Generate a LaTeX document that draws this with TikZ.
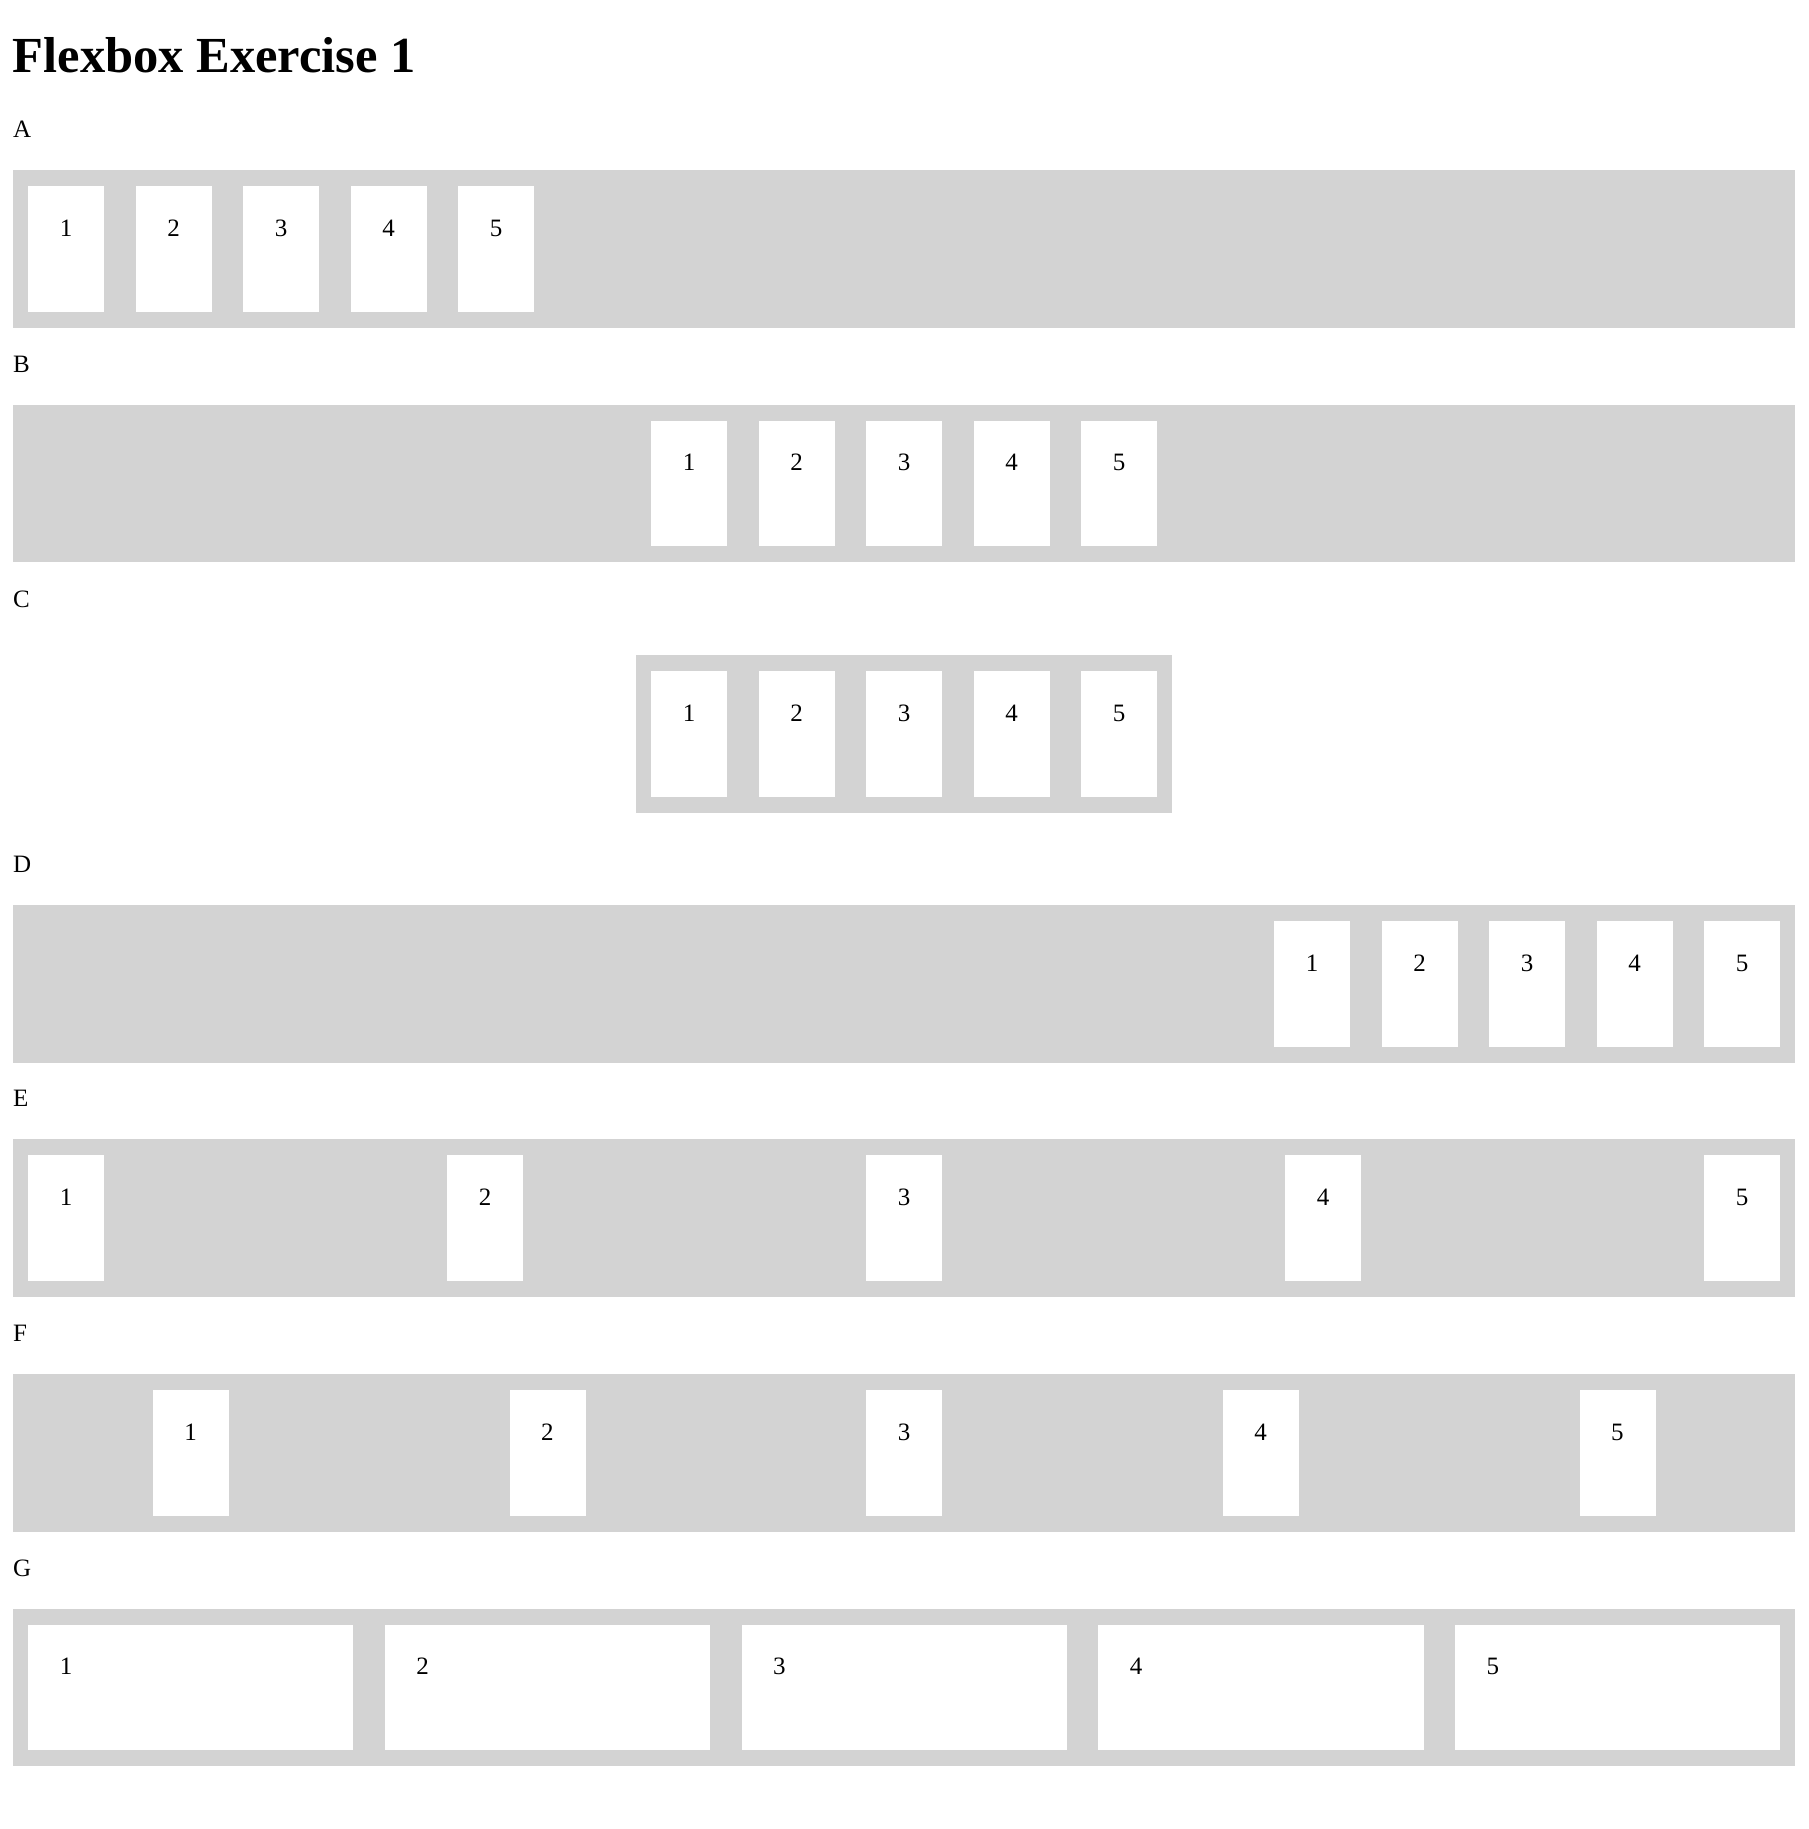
\documentclass[tikz,border=0pt]{standalone}
\usepackage{fontspec}
\setmainfont{Liberation Serif}
\definecolor{boxgray}{RGB}{211,211,211}
\tikzset{
  container/.style={fill=boxgray, draw=none, anchor=north west, inner sep=0pt, minimum height=157.7pt},
  boxnode/.style={fill=white, draw=none, anchor=north west, inner sep=0pt, minimum height=125.7pt},
  num/.style={anchor=base, inner sep=0pt, font=\fontsize{25}{30}\selectfont},
  lab/.style={anchor=base west, inner sep=0pt, font=\fontsize{25}{30}\selectfont},
}
\newcommand\flexrow[4]{%
  \foreach \xx [count=\i] in {#4} {
    \node[boxnode, minimum width=#3pt] (#1\i) at (\xx, #2+16) {};
    \node[num] (#1num\i) at (\xx+38, #2+66) {\i};
  }}
\begin{document}
\begin{tikzpicture}[x=1pt,y=-1pt]
\useasboundingbox[fill=white] (0,0) rectangle (1808,1829);
\node[anchor=base west, inner sep=0pt, font=\fontsize{50.5}{60}\selectfont\bfseries] (title) at (12.5,72) {Flexbox Exercise 1};

% A
\node[lab] (labA) at (13,137.7) {A};
\node[container, minimum width=1782pt] (contA) at (13,170) {};
\flexrow{A}{170}{76}{28,135.5,243,350.5,458}
% B
\node[lab] (labB) at (13,372) {B};
\node[container, minimum width=1782pt] (contB) at (13,404.5) {};
\flexrow{B}{404.5}{76}{651,758.5,866,973.5,1081}
% C
\node[lab] (labC) at (13,607) {C};
\node[container, minimum width=536pt] (contC) at (636,655) {};
\flexrow{C}{655}{76}{651,758.5,866,973.5,1081}
% D
\node[lab] (labD) at (13,872.6) {D};
\node[container, minimum width=1782pt] (contD) at (13,905) {};
\flexrow{D}{905}{76}{1274,1381.5,1489,1596.5,1704}
% E
\node[lab] (labE) at (13,1106.7) {E};
\node[container, minimum width=1782pt] (contE) at (13,1139) {};
\flexrow{E}{1139}{76}{28,447,866,1285,1704}
% F
\node[lab] (labF) at (13,1341.7) {F};
\node[container, minimum width=1782pt] (contF) at (13,1374) {};
\flexrow{F}{1374}{76}{152.6,509.3,866,1222.7,1579.4}
% G
\node[lab] (labG) at (13,1576) {G};
\node[container, minimum width=1782pt] (contG) at (13,1608.5) {};
\flexrow{G}{1608.5}{325.2}{28,384.7,741.4,1098.1,1454.8}
\end{tikzpicture}
\end{document}
